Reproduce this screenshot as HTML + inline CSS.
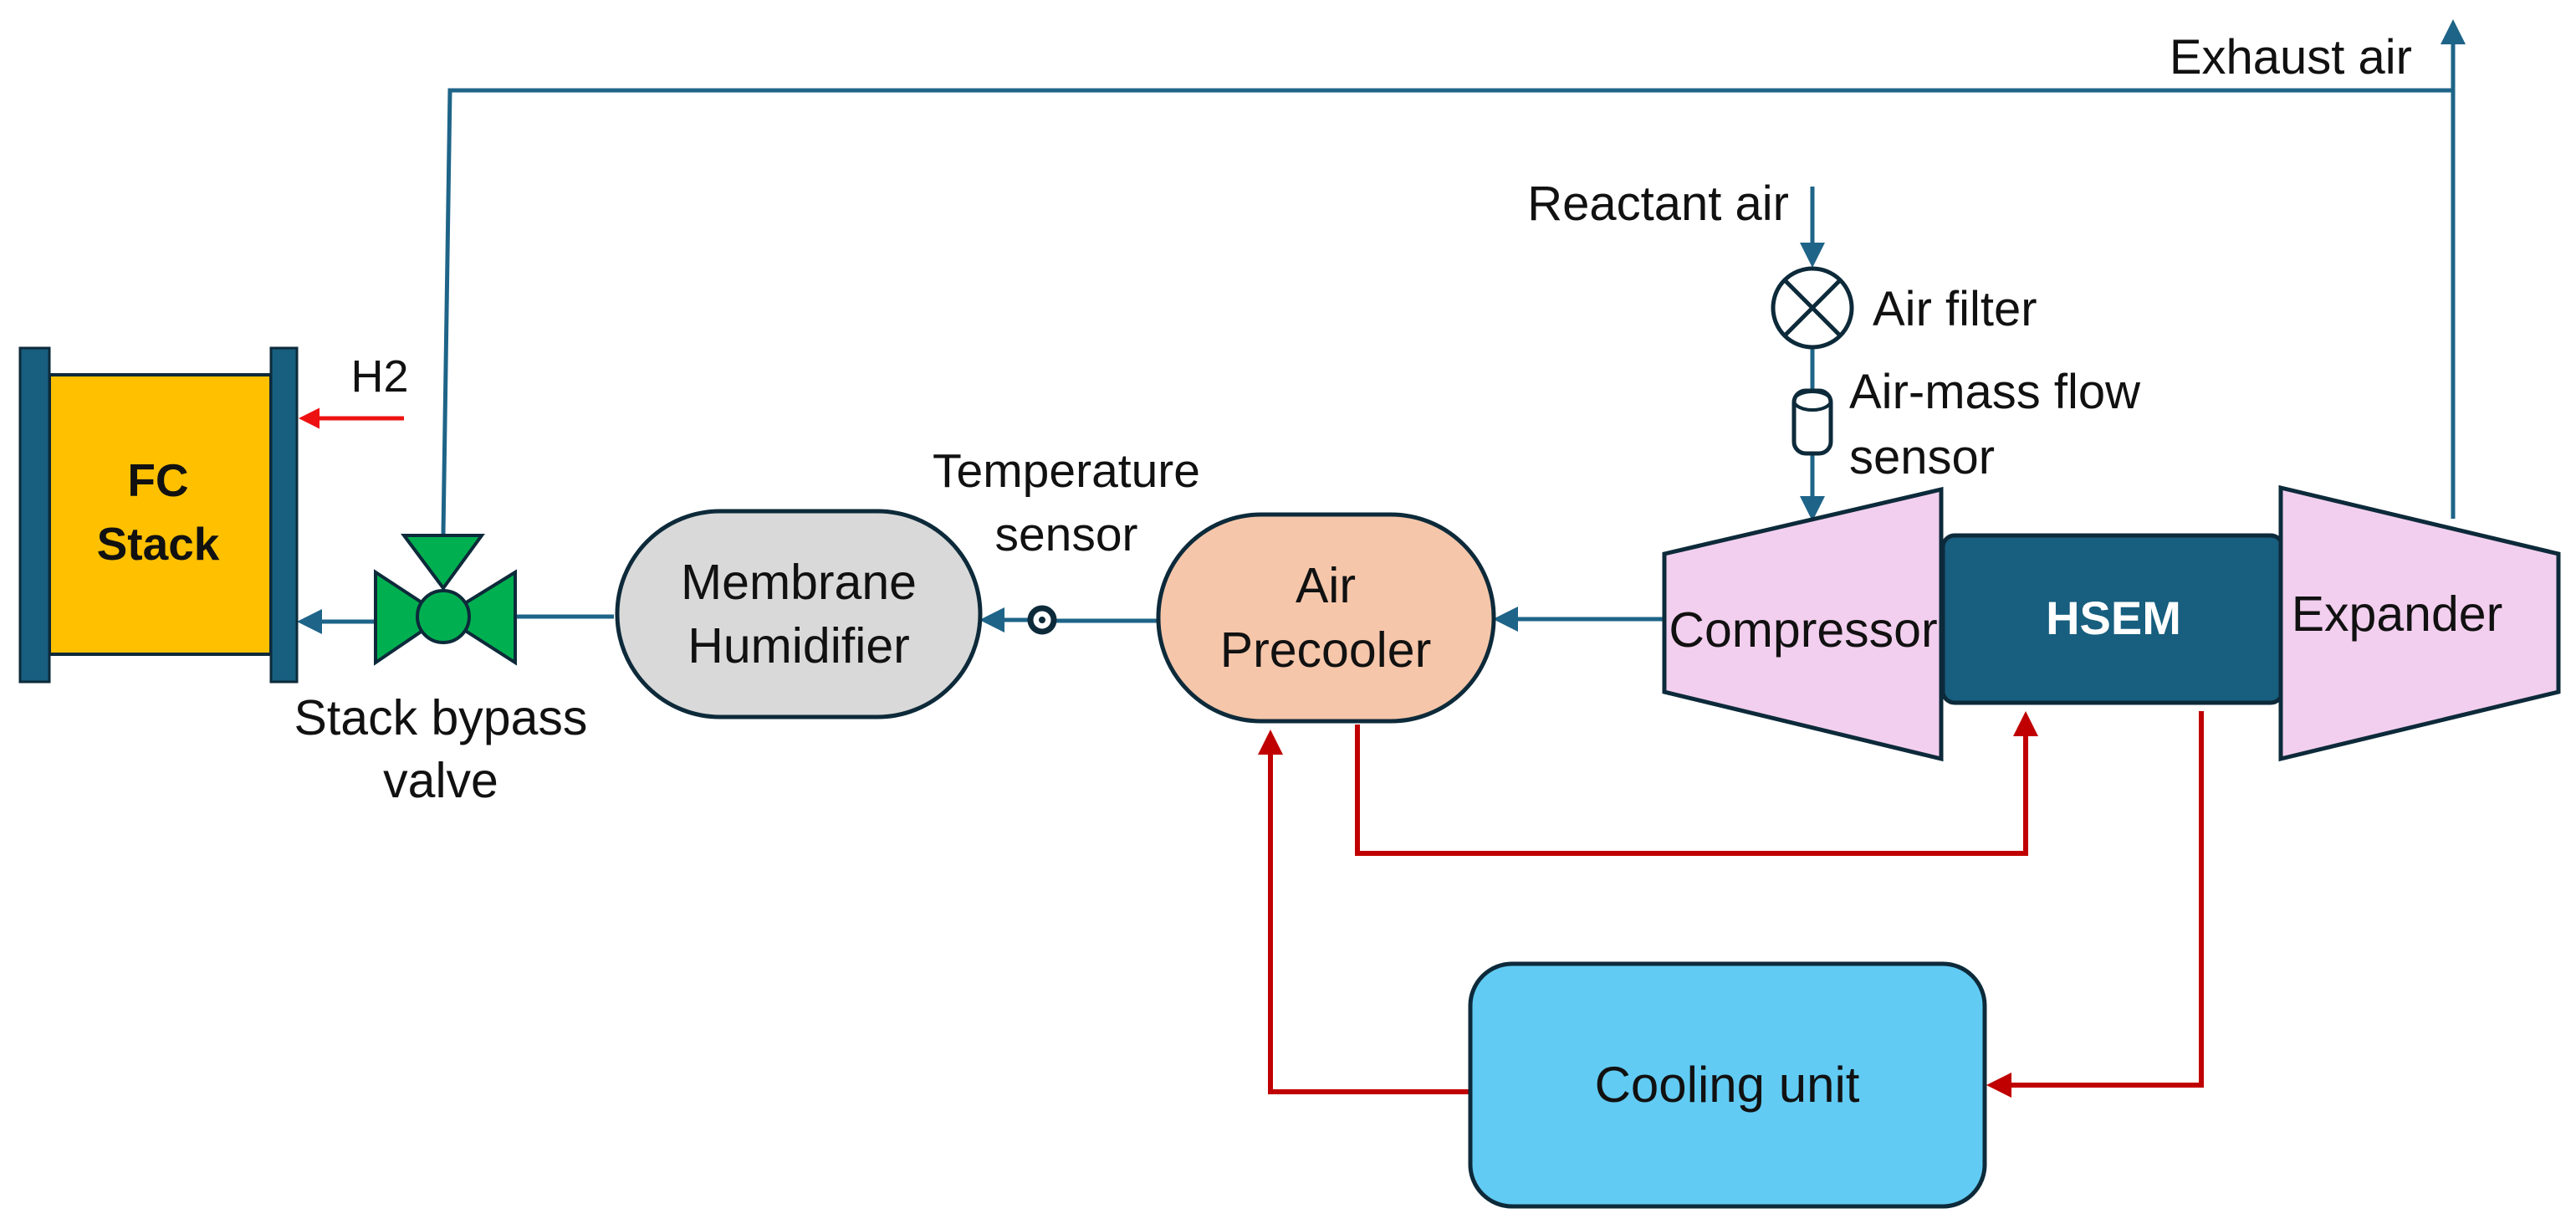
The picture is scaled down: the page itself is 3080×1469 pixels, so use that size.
<!DOCTYPE html>
<html><head><meta charset="utf-8"><style>
html,body{margin:0;padding:0;background:#fff}
svg{display:block}
text{font-family:"Liberation Sans",Arial,sans-serif;fill:#111}
</style></head><body>
<svg width="3080" height="1469" viewBox="0 0 3080 1469" xmlns="http://www.w3.org/2000/svg">
<defs>
<marker id="ab" markerWidth="6" markerHeight="6" refX="5" refY="3" orient="auto" markerUnits="strokeWidth"><path d="M0,0 L6,3 L0,6 z" fill="#1e6488"/></marker>
<marker id="ar" markerWidth="5" markerHeight="5" refX="4" refY="2.5" orient="auto" markerUnits="strokeWidth"><path d="M0,0 L5,2.5 L0,5 z" fill="#c00000"/></marker>
<marker id="ar2" markerWidth="5" markerHeight="5" refX="4" refY="2.5" orient="auto" markerUnits="strokeWidth"><path d="M0,0 L5,2.5 L0,5 z" fill="#ee1111"/></marker>
</defs>
<g fill="none" stroke="#1e6488" stroke-width="5">
<polyline points="530,638 538,108 2933,108"/>
<line x1="2933" y1="620" x2="2933" y2="28" marker-end="url(#ab)"/>
<line x1="449" y1="743" x2="360" y2="743" marker-end="url(#ab)"/>
<line x1="734" y1="737" x2="616" y2="737"/>
<line x1="1383" y1="742" x2="1262" y2="742"/>
<line x1="1232" y1="741" x2="1176" y2="741" marker-end="url(#ab)"/>
<line x1="1990" y1="740" x2="1790" y2="740" marker-end="url(#ab)"/>
<line x1="2167" y1="223" x2="2167" y2="315" marker-end="url(#ab)"/>
<line x1="2167" y1="415" x2="2167" y2="467"/>
<line x1="2167" y1="542" x2="2167" y2="618" marker-end="url(#ab)"/>
</g>
<line x1="483" y1="500" x2="362" y2="500" stroke="#ee1111" stroke-width="5" marker-end="url(#ar2)"/>
<g fill="none" stroke="#c00000" stroke-width="6">
<polyline points="1758,1305 1519,1305 1519,878" marker-end="url(#ar)"/>
<polyline points="1623,866 1623,1020 2422,1020 2422,856" marker-end="url(#ar)"/>
<polyline points="2632,850 2632,1297 2381,1297" marker-end="url(#ar)"/>
</g>
<!-- FC stack -->
<rect x="59" y="448" width="265" height="334" fill="#ffc000" stroke="#0d2a3a" stroke-width="4"/>
<rect x="24" y="416" width="35" height="399" fill="#175e7f" stroke="#0d2a3a" stroke-width="3"/>
<rect x="324" y="416" width="31" height="399" fill="#175e7f" stroke="#0d2a3a" stroke-width="3"/>
<text x="189" y="593" font-size="55" font-weight="bold" text-anchor="middle">FC</text>
<text x="189" y="669" font-size="55" font-weight="bold" text-anchor="middle">Stack</text>
<text x="454" y="468" font-size="54" text-anchor="middle">H2</text>
<!-- valve -->
<g fill="#00b050" stroke="#0d2a3a" stroke-width="4">
<polygon points="483,640 576,640 530,703"/>
<polygon points="449,684 449,792 530,737"/>
<polygon points="616,684 616,792 530,737"/>
<circle cx="530" cy="737" r="31"/>
</g>
<text x="527" y="878" font-size="59" text-anchor="middle">Stack bypass</text>
<text x="527" y="953" font-size="59" text-anchor="middle">valve</text>
<!-- humidifier -->
<rect x="738" y="611" width="434" height="246" rx="123" fill="#d9d9d9" stroke="#0d2a3a" stroke-width="5"/>
<text x="955" y="716" font-size="59" text-anchor="middle">Membrane</text>
<text x="955" y="792" font-size="59" text-anchor="middle">Humidifier</text>
<text x="1275" y="582" font-size="57" text-anchor="middle">Temperature</text>
<text x="1275" y="658" font-size="57" text-anchor="middle">sensor</text>
<circle cx="1246" cy="741" r="14" fill="#fff" stroke="#0d2a3a" stroke-width="7"/>
<circle cx="1246" cy="741" r="4" fill="#0d2a3a"/>
<!-- precooler -->
<rect x="1385" y="615" width="401" height="247" rx="123" fill="#f5c6aa" stroke="#0d2a3a" stroke-width="5"/>
<text x="1585" y="720" font-size="59" text-anchor="middle">Air</text>
<text x="1585" y="797" font-size="59" text-anchor="middle">Precooler</text>
<!-- cooling -->
<rect x="1758" y="1152" width="615" height="290" rx="50" fill="#61cbf3" stroke="#0d2a3a" stroke-width="5"/>
<text x="2065" y="1317" font-size="60" text-anchor="middle">Cooling unit</text>
<!-- machines -->
<polygon points="1990,662 2321,585 2321,907 1990,827" fill="#f2cfee" stroke="#0d2a3a" stroke-width="5"/>
<rect x="2323" y="640" width="406" height="200" rx="14" fill="#175e7f" stroke="#0d2a3a" stroke-width="5"/>
<polygon points="2727,583 3059,662 3059,827 2727,907" fill="#f2cfee" stroke="#0d2a3a" stroke-width="5"/>
<text x="2156" y="773" font-size="59" text-anchor="middle">Compressor</text>
<text x="2527" y="758" font-size="56" font-weight="bold" text-anchor="middle" style="fill:#fff">HSEM</text>
<text x="2866" y="754" font-size="59" text-anchor="middle">Expander</text>
<!-- top -->
<text x="2884" y="88" font-size="58" text-anchor="end">Exhaust air</text>
<text x="2139" y="263" font-size="58" text-anchor="end">Reactant air</text>
<circle cx="2167" cy="368" r="47" fill="#fff" stroke="#0d2a3a" stroke-width="5"/>
<line x1="2134" y1="335" x2="2200" y2="401" stroke="#0d2a3a" stroke-width="5"/>
<line x1="2200" y1="335" x2="2134" y2="401" stroke="#0d2a3a" stroke-width="5"/>
<text x="2239" y="389" font-size="58">Air filter</text>
<rect x="2145" y="467" width="44" height="75" rx="14" fill="#fff" stroke="#0d2a3a" stroke-width="5"/>
<ellipse cx="2167" cy="479" rx="22" ry="11" fill="none" stroke="#0d2a3a" stroke-width="4"/>
<text x="2211" y="488" font-size="58">Air-mass flow</text>
<text x="2211" y="566" font-size="58">sensor</text>
</svg>
</body></html>
